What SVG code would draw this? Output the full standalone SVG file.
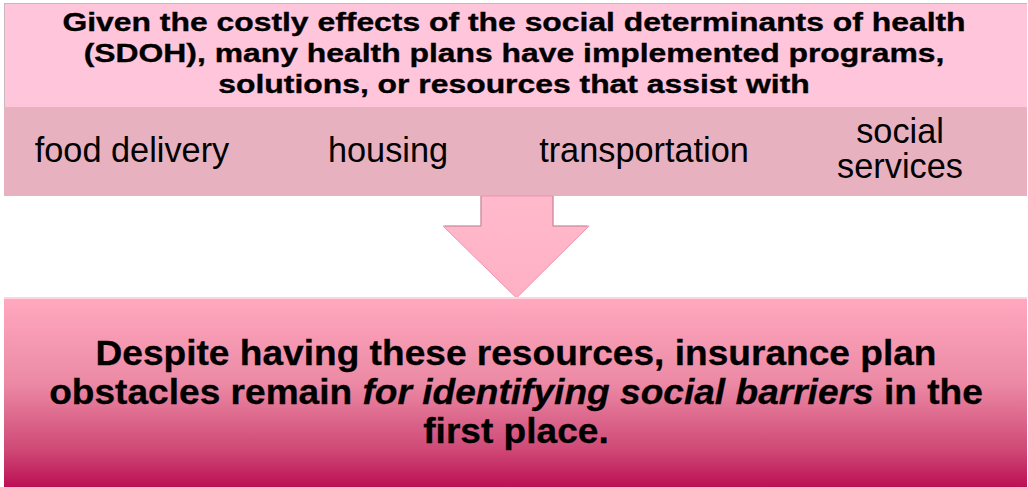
<svg xmlns="http://www.w3.org/2000/svg" width="1028" height="487" viewBox="0 0 1028 487">
  <style>
    .head { font-family: "Liberation Sans", Arial, sans-serif; font-weight: bold; font-size: 25.5px; fill: #000; stroke: #000; stroke-width: 0.35px; text-anchor: middle; }
    .item { font-family: "Liberation Sans", Arial, sans-serif; font-size: 34.3px; fill: #000; text-anchor: middle; }
    .main { font-family: "Liberation Sans", Arial, sans-serif; font-weight: bold; font-size: 35.5px; fill: #000; stroke: #000; stroke-width: 0.3px; text-anchor: middle; }
  </style>
  <defs>
    <linearGradient id="mainFill" x1="0" y1="0" x2="0" y2="1">
      <stop offset="0" stop-color="#FFA9BF"/>
      <stop offset="0.45" stop-color="#EC8AA5"/>
      <stop offset="0.8" stop-color="#CF4A77"/>
      <stop offset="1" stop-color="#BC0F53"/>
    </linearGradient>
    <linearGradient id="arrowFill" x1="0" y1="0" x2="0" y2="1">
      <stop offset="0" stop-color="#FFBACB"/>
      <stop offset="1" stop-color="#FFB0C4"/>
    </linearGradient>
  </defs>

  <rect width="1028" height="487" fill="#FFFFFF"/>

  <!-- intro panel -->
  <g id="intro">
    <rect x="4" y="3" width="1023" height="104" fill="#FFC5DB"/>
    <line x1="4" y1="3.5" x2="1027" y2="3.5" stroke="#C9B7BD" stroke-width="1"/>
    <line x1="4.5" y1="3" x2="4.5" y2="107" stroke="#C9B7BD" stroke-width="1"/>
    <g transform="translate(514,0) scale(1.25,1)">
      <text class="head" x="0" y="31.5">Given the costly effects of the social determinants of health</text>
      <text class="head" x="0" y="62.5">(SDOH), many health plans have implemented programs,</text>
      <text class="head" x="0" y="93">solutions, or resources that assist with</text>
    </g>
  </g>

  <!-- band of supported services -->
  <g id="services">
    <rect x="4" y="107" width="1023" height="89" fill="#E8B1BF"/>
    <g id="food-delivery"><text class="item" x="132" y="162">food delivery</text></g>
    <g id="housing"><text class="item" x="388" y="162">housing</text></g>
    <g id="transportation"><text class="item" x="644" y="162">transportation</text></g>
    <g id="social-services">
      <text class="item" x="900" y="143">social</text>
      <text class="item" x="900" y="178">services</text>
    </g>
  </g>

  <!-- connector -->
  <g id="connectors">
    <polygon points="481,196 553,196 553,226 589,226 516.5,298 443,226 481,226" fill="url(#arrowFill)" stroke="#E996AE" stroke-width="1"/>
    <polyline points="481,196 481,226 445,226" fill="none" stroke="#B58A96" stroke-width="1.2" opacity="0.7"/>
    <polyline points="553,196 553,226 587,226" fill="none" stroke="#B58A96" stroke-width="1.2" opacity="0.7"/>
  </g>

  <!-- conclusion panel -->
  <g id="conclusion">
    <rect x="4" y="297" width="1023" height="190" fill="url(#mainFill)"/>
    <line x1="4" y1="298" x2="1027" y2="298" stroke="#FFD3DF" stroke-width="2"/>
    <g transform="translate(516,0) scale(1.045,1)">
      <text class="main" x="0" y="365.5">Despite having these resources, insurance plan</text>
      <text class="main" x="0" y="404.5">obstacles remain <tspan font-style="italic">for identifying social barriers</tspan> in the</text>
      <text class="main" x="0" y="443.5">first place.</text>
    </g>
  </g>
</svg>
